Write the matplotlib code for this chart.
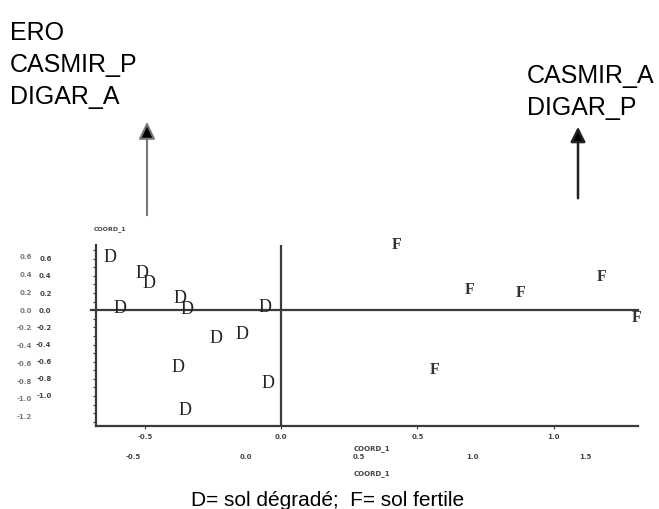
import matplotlib
matplotlib.use("Agg")
import matplotlib.pyplot as plt
import numpy as np

# scores of the sites on the two first axes
d_x = [-0.63, -0.51, -0.485, -0.59, -0.37, -0.345, -0.06, -0.24, -0.145, -0.38, -0.05, -0.355]
d_y = [0.615, 0.43, 0.315, 0.02, 0.14, 0.01, 0.035, -0.325, -0.28, -0.665, -0.85, -1.175]
f_x = [0.425, 0.69, 0.88, 1.175, 1.305, 0.565]
f_y = [0.755, 0.235, 0.2, 0.385, -0.095, -0.70]

yticks = [0.6, 0.4, 0.2, 0.0, -0.2, -0.4, -0.6, -0.8, -1.0]
xticks = [-0.5, 0.0, 0.5, 1.0]
xticks2 = [-0.5, 0.0, 0.5, 1.0, 1.5]
yticks2 = [0.6, 0.4, 0.2, 0.0, -0.2, -0.4, -0.6, -0.8, -1.0, -1.2]

left_txt = "ERO\nCASMIR_P\nDIGAR_A"
right_txt = "CASMIR_A\nDIGAR_P"
caption = "D= sol dégradé;  F= sol fertile"

W, H = 659, 509
fig = plt.figure(figsize=(W / 100, H / 100), dpi=100)
ax = fig.add_axes([96 / W, 1 - 426 / H, (638 - 96) / W, (426 - 245) / H])
ax.set_xlim(-0.68, 1.31)
ax.set_ylim(-1.35, 0.76)

lc = "#3a3a3a"
for s in ["top", "right"]:
    ax.spines[s].set_visible(False)
for s in ["left", "bottom"]:
    ax.spines[s].set_color(lc)
    ax.spines[s].set_linewidth(1.6)

ax.axhline(0, xmin=-0.01, xmax=1, color=lc, lw=1.6, clip_on=False)
ax.axvline(0, color=lc, lw=1.6)

tick_kw = dict(fontsize=5, fontweight="bold", color="#444444")
ax.set_yticks(yticks)
ax.set_yticklabels(["%.1f" % v for v in yticks], **tick_kw)
ax.set_yticks(np.arange(-1.3, 0.75, 0.1), minor=True)
ax.tick_params(axis="y", which="both", length=2, width=0.8, color=lc, pad=30)
ax.set_xticks(xticks)
ax.set_xticklabels(["%.1f" % v for v in xticks], **tick_kw)
ax.tick_params(axis="x", length=2, width=0.8, color=lc, pad=4)

# second set of scales printed in the scan
sx = ax.secondary_xaxis(-0.145, functions=(lambda x: (35 + 272 * x) / 226,
                                           lambda x: (226 * x - 35) / 272))
sx.set_xticks(xticks2)
sx.set_xticklabels(["%.1f" % v for v in xticks2], **tick_kw)
sx.spines["bottom"].set_visible(False)
sx.tick_params(length=0, pad=1)

sy = ax.secondary_yaxis(-0.115, functions=(lambda y: y * 86 / 89, lambda y: y * 89 / 86))
sy.set_yticks(yticks2)
sy.set_yticklabels(["%.1f" % v for v in yticks2], fontsize=5, fontweight="bold", color="#777777")
sy.spines["left"].set_visible(False)
sy.tick_params(length=0, pad=1)

for x, y in zip(d_x, d_y):
    ax.text(x, y, "D", family="Liberation Serif", fontsize=13, color="#222222",
            ha="center", va="center", clip_on=False)
for x, y in zip(f_x, f_y):
    ax.text(x, y, "F", family="Liberation Serif", fontsize=11.5, fontweight="bold",
            color="#333333", ha="center", va="center", clip_on=False)

fig.text(110 / W, 1 - 229 / H, "COORD_1", fontsize=4.5, fontweight="bold", color="#444444",
         ha="center", va="center")
fig.text(372 / W, 1 - 449 / H, "COORD_1", fontsize=5, fontweight="bold", color="#444444",
         ha="center", va="center")
fig.text(372 / W, 1 - 474 / H, "COORD_1", fontsize=5, fontweight="bold", color="#444444",
         ha="center", va="center")

fig.text(10 / W, 1 - 21 / H, left_txt, family="Liberation Sans", fontsize=18,
         ha="left", va="top", linespacing=1.42)
fig.text(527 / W, 1 - 64 / H, right_txt, family="Liberation Sans", fontsize=18,
         ha="left", va="top", linespacing=1.42)
fig.text(328 / W, 1 - 500 / H, caption, family="Liberation Sans", fontsize=15,
         ha="center", va="center")

ax.annotate("", xy=(147, H - 119), xytext=(147, H - 218), xycoords="figure pixels",
            textcoords="figure pixels",
            arrowprops=dict(arrowstyle="-|>,head_length=1.05,head_width=0.5",
                            fc="black", ec="#777777", lw=1.5))
ax.annotate("", xy=(578, H - 124), xytext=(578, H - 201), xycoords="figure pixels",
            textcoords="figure pixels",
            arrowprops=dict(arrowstyle="-|>,head_length=0.9,head_width=0.45",
                            fc="black", ec="#222222", lw=1.8))

fig.savefig("out.png", dpi=100)
